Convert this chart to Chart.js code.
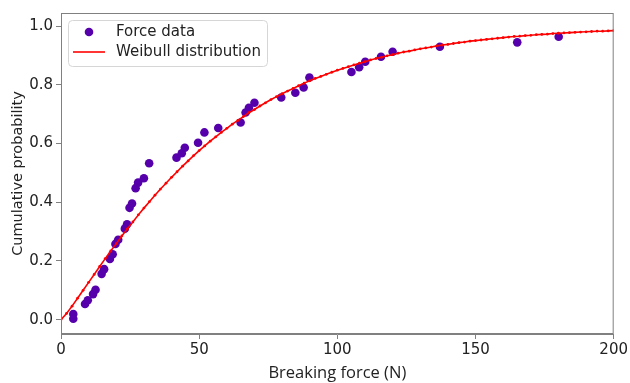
<!DOCTYPE html>
<html>
<head>
<meta charset="utf-8">
<script src="https://cdn.jsdelivr.net/npm/chart.js@4"></script>
<style>
  html, body { margin: 0; padding: 0; background: #fff; }
  #wrap { width: 630px; height: 383px; }
</style>
</head>
<body>
<div id="wrap"><canvas id="weibullChart" width="630" height="383"></canvas></div>
<script>
// measured breaking forces and their cumulative probability
const forceX = [4.45, 4.45, 8.7, 9.7, 11.6, 12.5, 14.7, 15.6, 17.7, 18.7, 19.7, 20.7,
  23.1, 23.9, 24.8, 25.7, 27.0, 27.9, 30.0, 31.9, 41.8, 43.7, 44.8, 49.6,
  51.9, 56.9, 65.0, 66.8, 68.0, 70.0, 79.7, 84.8, 87.8, 89.9, 105.1, 107.9,
  110.1, 115.8, 120.0, 137.1, 165.1, 180.1];
const forceY = [0.019, 0.003, 0.053, 0.066, 0.087, 0.102, 0.156, 0.172, 0.207, 0.223, 0.258, 0.272,
  0.310, 0.325, 0.381, 0.396, 0.448, 0.467, 0.482, 0.533, 0.552, 0.567, 0.586, 0.603,
  0.638, 0.653, 0.672, 0.706, 0.722, 0.739, 0.757, 0.773, 0.791, 0.825, 0.844, 0.860,
  0.879, 0.896, 0.913, 0.930, 0.945, 0.964];

// fitted Weibull curve
const fitX = [0, 2, 4, 6, 8, 10, 12, 14, 16, 18, 20, 22, 24, 26, 28, 30, 32, 34, 36, 38,
  40, 42, 44, 46, 48, 50, 52, 54, 56, 58, 60, 62, 64, 66, 68, 70, 72, 74, 76, 78,
  80, 82, 84, 86, 88, 90, 92, 94, 96, 98, 100, 102, 104, 106, 108, 110, 112, 114, 116, 118,
  120, 122, 124, 126, 128, 130, 132, 134, 136, 138, 140, 142, 144, 146, 148, 150, 152, 154, 156, 158,
  160, 162, 164, 166, 168, 170, 172, 174, 176, 178, 180, 182, 184, 186, 188, 190, 192, 194, 196, 198, 200];
const fitY = [0.000, 0.021, 0.046, 0.073, 0.100, 0.127, 0.154, 0.181, 0.208, 0.234,
  0.259, 0.285, 0.309, 0.333, 0.357, 0.380, 0.402, 0.424, 0.445, 0.465,
  0.485, 0.504, 0.523, 0.541, 0.559, 0.576, 0.592, 0.608, 0.623, 0.638,
  0.652, 0.666, 0.679, 0.692, 0.705, 0.716, 0.728, 0.739, 0.750, 0.760,
  0.770, 0.779, 0.788, 0.797, 0.806, 0.814, 0.822, 0.829, 0.836, 0.843,
  0.850, 0.856, 0.862, 0.868, 0.874, 0.879, 0.885, 0.890, 0.894, 0.899,
  0.903, 0.908, 0.912, 0.915, 0.919, 0.923, 0.926, 0.929, 0.933, 0.936,
  0.938, 0.941, 0.944, 0.946, 0.949, 0.951, 0.953, 0.955, 0.957, 0.959,
  0.961, 0.963, 0.965, 0.966, 0.968, 0.969, 0.971, 0.972, 0.973, 0.975,
  0.976, 0.977, 0.978, 0.979, 0.980, 0.981, 0.982, 0.983, 0.983, 0.984, 0.985];

const xTicks = [0, 50, 100, 150, 200];
const yTicks = [0.0, 0.2, 0.4, 0.6, 0.8, 1.0];
const legendLabels = ['Force data', 'Weibull distribution'];

const ungu = '#5500aa';
const merah = '#ff0000';
const abu = '#808080';
const fontUtama = 'DejaVu Sans';

// frame on all four sides + legend inside the plot (like matplotlib)
const bingkaiPlugin = {
  id: 'bingkai',
  afterDraw(chart) {
    const { ctx, chartArea: a } = chart;
    ctx.save();
    ctx.strokeStyle = abu;
    ctx.lineWidth = 1;
    ctx.strokeRect(a.left + 0.5, a.top + 0.5, a.right - a.left - 1, a.bottom - a.top - 1);

    // legend box
    const bx = a.left + 7, by = a.top + 7, bw = 199, bh = 46;
    ctx.beginPath();
    ctx.roundRect(bx + 0.5, by + 0.5, bw, bh, 4);
    ctx.fillStyle = 'rgba(255,255,255,0.85)';
    ctx.fill();
    ctx.strokeStyle = '#d6d6d6';
    ctx.stroke();

    ctx.fillStyle = ungu;
    ctx.beginPath();
    ctx.arc(bx + 21, by + 12, 4.3, 0, Math.PI * 2);
    ctx.fill();

    ctx.strokeStyle = merah;
    ctx.lineWidth = 1.6;
    ctx.beginPath();
    ctx.moveTo(bx + 5, by + 32);
    ctx.lineTo(bx + 37, by + 32);
    ctx.stroke();

    ctx.fillStyle = '#222';
    ctx.font = '15px "' + fontUtama + '"';
    ctx.textBaseline = 'middle';
    ctx.fillText(legendLabels[0], bx + 48, by + 12);
    ctx.fillText(legendLabels[1], bx + 48, by + 32);
    ctx.restore();
  }
};

const ctx = document.getElementById('weibullChart').getContext('2d');
const chart = new Chart(ctx, {
  type: 'scatter',
  data: {
    datasets: [
      {
        label: legendLabels[1],
        data: fitX.map((x, i) => ({ x: x, y: fitY[i] })),
        showLine: true,
        borderColor: merah,
        borderWidth: 1.6,
        backgroundColor: merah,
        pointRadius: 1.4,
        pointBorderWidth: 0,
        order: 0
      },
      {
        label: legendLabels[0],
        data: forceX.map((x, i) => ({ x: x, y: forceY[i] })),
        backgroundColor: ungu,
        borderColor: ungu,
        pointRadius: 4.3,
        pointBorderWidth: 0,
        order: 1
      }
    ]
  },
  options: {
    responsive: false,
    animation: false,
    layout: { padding: { top: 13, right: 15, bottom: 0, left: 0 } },
    plugins: { legend: { display: false }, tooltip: { enabled: false } },
    scales: {
      x: {
        type: 'linear',
        min: 0,
        max: 200,
        afterBuildTicks: s => { s.ticks = xTicks.map(v => ({ value: v })); },
        afterFit: s => { s.height = 49; },
        grid: { drawOnChartArea: false, color: abu, tickLength: 5 },
        border: { color: abu },
        ticks: { color: '#222', font: { family: fontUtama, size: 15 }, padding: 2, maxRotation: 0 },
        title: {
          display: true,
          text: 'Breaking force (N)',
          color: '#222',
          font: { family: 'Open Sans', size: 16.5 },
          padding: { top: 4, bottom: 0 }
        }
      },
      y: {
        type: 'linear',
        min: -0.049,
        max: 1.045,
        afterBuildTicks: s => { s.ticks = yTicks.map(v => ({ value: v })); },
        afterFit: s => { s.width = 61; },
        grid: { drawOnChartArea: false, color: abu, tickLength: 5 },
        border: { color: abu },
        ticks: {
          color: '#222',
          font: { family: fontUtama, size: 15 },
          padding: 3,
          callback: v => v.toFixed(1)
        },
        title: {
          display: true,
          text: 'Cumulative probability',
          color: '#222',
          font: { family: fontUtama, size: 14.5 },
          padding: { top: 10, bottom: 0 }
        }
      }
    }
  },
  plugins: [bingkaiPlugin]
});
</script>
</body>
</html>
